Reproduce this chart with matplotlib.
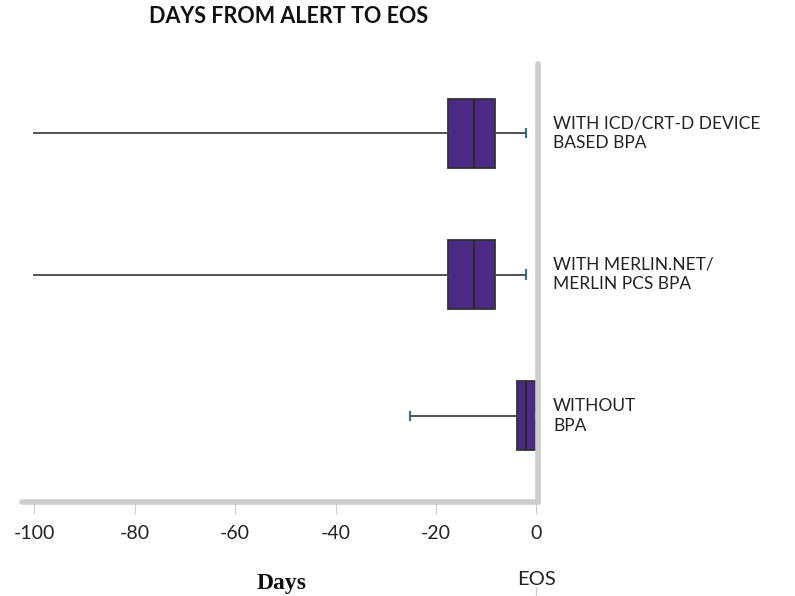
import matplotlib.pyplot as plt
import matplotlib.transforms as mtransforms

# Box statistics (days relative to EOS)
groups = ["WITHOUT\nBPA",
          "WITH MERLIN.NET/\nMERLIN PCS BPA",
          "WITH ICD/CRT-D DEVICE\nBASED BPA"]
whislo = [-25.2, -100, -100]
q1 = [-3.9, -17.6, -17.6]
med = [-2.1, -12.4, -12.4]
q3 = [0, -8.3, -8.3]
whishi = [0, -2.1, -2.1]
show_low_cap = [True, False, False]

ticks = [-100, -80, -60, -40, -20, 0]

plt.rcParams['font.family'] = ['Lato', 'DejaVu Sans']

fig = plt.figure(figsize=(7.95, 5.96), dpi=100)
ax = fig.add_axes([22 / 795, 94 / 596, 516 / 795, 438 / 596])

stats = []
for i, g in enumerate(groups):
    stats.append(dict(label=g, whislo=whislo[i], q1=q1[i], med=med[i],
                      q3=q3[i], whishi=whishi[i], fliers=[]))

pos = list(range(len(groups)))
res = ax.bxp(stats, positions=pos, orientation='horizontal', widths=0.49,
             capwidths=0.06, patch_artist=True, showfliers=False,
             boxprops=dict(facecolor='#4b2a85', edgecolor='#333333', linewidth=1.3),
             medianprops=dict(color='#2a2a2a', linewidth=1.5),
             whiskerprops=dict(color='#444444', linewidth=1.3),
             capprops=dict(color='#2e6e8e', linewidth=1.5))

# the low caps at -100 are not drawn in the original
for i, show in enumerate(show_low_cap):
    res['caps'][2 * i].set_visible(show)

ax.set_xlim(-102.4, 0.3)
ax.set_ylim(-0.61, 2.49)
ax.set_xticks(ticks)
ax.set_xticklabels([str(t) for t in ticks])
ax.set_yticks([])

for s in ['top', 'left']:
    ax.spines[s].set_visible(False)
for s in ['right', 'bottom']:
    ax.spines[s].set_color('#cccccc')
    ax.spines[s].set_linewidth(4)
    ax.spines[s].set_capstyle('round')
ax.tick_params(axis='x', direction='out', length=8.6, width=0.8,
               color='#cccccc', labelsize=14, labelcolor='#222222', pad=8)

trans = mtransforms.blended_transform_factory(ax.transAxes, ax.transData)
for p, g in zip(pos, groups):
    ax.text(1.029, p, g, transform=trans, ha='left', va='center',
            fontsize=12.5, color='#222222', linespacing=1.3)

fig.text(288.5 / 795, 1 - 16.5 / 596, "DAYS FROM ALERT TO EOS", ha='center',
         va='center', fontsize=15.5, fontweight='bold', color='#111111')

fig.text(282 / 795, 1 - 583 / 596, "Days", ha='center', va='center',
         fontsize=17, fontweight='bold', family='Liberation Serif', color='#111111')

trans2 = mtransforms.blended_transform_factory(ax.transData, ax.transAxes)
ax.text(0, -0.176, "EOS", transform=trans2, ha='center', va='center',
        fontsize=14.5, color='#222222')
ax.plot([0, 0], [-0.195, -0.216], transform=trans2, color='#cccccc',
        linewidth=0.8, clip_on=False)

fig.savefig('out.png', dpi=100)
